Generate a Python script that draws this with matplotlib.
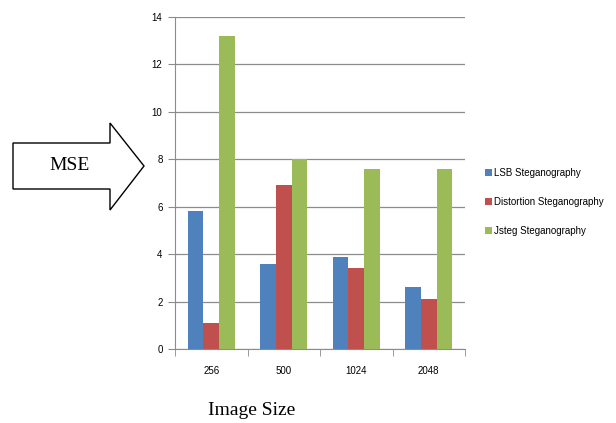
import numpy as np
import matplotlib.pyplot as plt
from matplotlib.patches import Polygon

# MSE for each image size
sizes = ["256", "500", "1024", "2048"]
lsb = [5.8, 3.6, 3.9, 2.6]
distortion = [1.1, 6.9, 3.4, 2.1]
jsteg = [13.2, 8.0, 7.6, 7.6]
series_names = ["LSB Steganography", "Distortion Steganography", "Jsteg Steganography"]

colors = ["#4F81BD", "#C0504D", "#9BBB59"]

plt.rcParams["font.family"] = ["Liberation Sans", "DejaVu Sans"]

W, H = 616, 423
fig = plt.figure(figsize=(W / 100, H / 100), dpi=100)
ax = fig.add_axes([175 / W, 1 - 349 / H, 290 / W, 332 / H])

x = np.arange(len(sizes))
bw = 0.218
for i, (vals, name) in enumerate(zip([lsb, distortion, jsteg], series_names)):
    ax.bar(x + (i - 1) * bw, vals, bw, color=colors[i], label=name, zorder=3)

ax.set_xlim(-0.5, len(sizes) - 0.5)
ax.set_ylim(0, 14)
ax.set_yticks(range(0, 15, 2))
ax.yaxis.grid(True, color="#8c8c8c", linewidth=0.9, zorder=0)

# category ticks between the groups
ax.set_xticks(x)
ax.set_xticklabels(sizes)
ax.set_xticks(np.arange(-0.5, len(sizes), 1), minor=True)
ax.tick_params(axis="x", which="major", length=0, pad=12, labelsize=7)
ax.tick_params(axis="x", which="minor", length=5, color="#8c8c8c")
ax.tick_params(axis="y", length=5, color="#8c8c8c", labelsize=7, pad=4)

for s in ["top", "right"]:
    ax.spines[s].set_visible(False)
for s in ["left", "bottom"]:
    ax.spines[s].set_color("#8c8c8c")

leg = fig.legend(loc="upper left", bbox_to_anchor=(476 / W, 1 - 159 / H),
                 frameon=False, fontsize=7, handlelength=0.7, handleheight=0.7,
                 handletextpad=0.3, labelspacing=1.95)

# block arrow with MSE label
pts = [(13, 143), (110, 143), (110, 123), (144, 166), (110, 210), (110, 189), (13, 189)]
arrow = Polygon([(px / W, 1 - py / H) for px, py in pts], closed=True,
                facecolor="white", edgecolor="black", linewidth=1.0,
                transform=fig.transFigure)
fig.patches.append(arrow)
fig.text(70 / W, 1 - 166 / H, "MSE", family="Liberation Serif", fontsize=14,
         ha="center", va="center")

fig.text(252 / W, 1 - 410 / H, "Image Size", family="Liberation Serif",
         fontsize=14, ha="center", va="center")

fig.savefig("out.png", dpi=100)
